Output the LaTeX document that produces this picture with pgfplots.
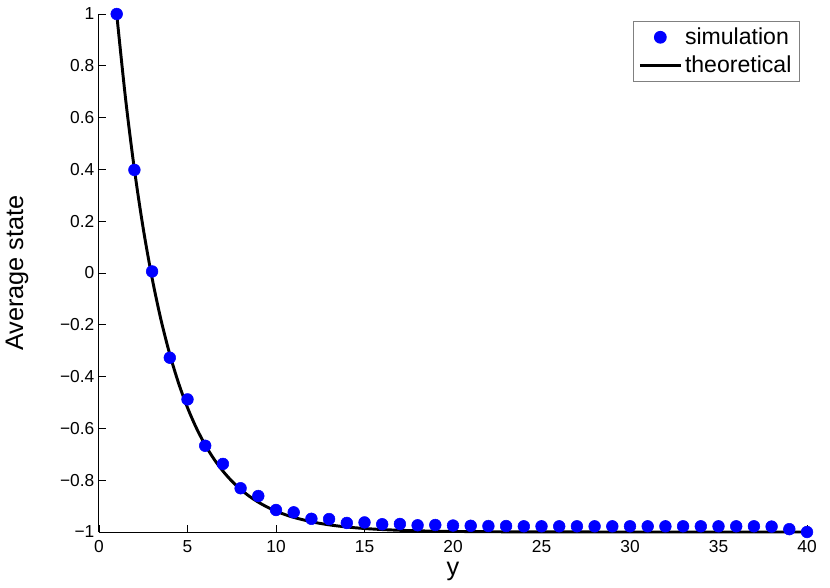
\documentclass[border=0pt]{standalone}
\usepackage{fontspec}
\setmainfont{Liberation Sans}
\usepackage{pgfplots}
\pgfplotsset{compat=1.18}
\begin{document}
\begin{tikzpicture}
\path[use as bounding box] (-74.25pt,-41.25pt) rectangle (548.25pt,399pt);
\begin{axis}[
  at={(0pt,0pt)}, anchor=south west,
  width=531pt, height=388.5pt, scale only axis,
  xmin=0, xmax=40, ymin=-1, ymax=1,
  axis x line*=bottom, axis y line*=left,
  axis line style={line width=0.75pt, black},
  tick align=inside,
  major tick length=5pt,
  tick style={line width=0.6pt, black},
  xtick={0,5,10,15,20,25,30,35,40},
  xticklabels={0,5,10,15,20,25,30,35,40},
  ytick={-1,-0.8,-0.6,-0.4,-0.2,0,0.2,0.4,0.6,0.8,1},
  yticklabels={−1,−0.8,−0.6,−0.4,−0.2,0,0.2,0.4,0.6,0.8,1},
  ticklabel style={font=\fontsize{13}{15}\selectfont},
  xticklabel style={yshift=-3pt},
  xlabel={y}, ylabel={Average state},
  xlabel style={at={(axis description cs:0.5,-0.0753)}, anchor=center},
  ylabel style={at={(axis description cs:-0.1158,0.5)}, anchor=center, rotate=0},
  label style={font=\fontsize{19}{22}\selectfont},
  clip=false,
  legend image code/.code={\draw[mark repeat=2,mark phase=2,#1] plot coordinates {(0pt,0pt) (15.4pt,0pt) (30.8pt,0pt)};},
  legend style={at={(0.990,0.987)}, anchor=north east, draw=gray, line width=0.75pt,
    font=\fontsize{17.3}{20}\selectfont, row sep=3pt, inner xsep=4pt, inner ysep=3pt},
  legend cell align=left,
]
\addplot[only marks, mark=*, mark size=4.4pt, color=blue, mark options={draw=blue, fill=blue}] coordinates {
(1,1.0) (2,0.398) (3,0.006) (4,-0.327) (5,-0.488) (6,-0.667) (7,-0.737) (8,-0.831)
(9,-0.861) (10,-0.915) (11,-0.924) (12,-0.949) (13,-0.950) (14,-0.965) (15,-0.963)
(16,-0.970) (17,-0.969) (18,-0.974) (19,-0.973) (20,-0.975) (21,-0.976) (22,-0.977)
(23,-0.977) (24,-0.978) (25,-0.978) (26,-0.978) (27,-0.978) (28,-0.978) (29,-0.978)
(30,-0.978) (31,-0.978) (32,-0.978) (33,-0.978) (34,-0.978) (35,-0.978) (36,-0.978)
(37,-0.978) (38,-0.979) (39,-0.989) (40,-1.0)
};
\addlegendentry{simulation}
\addplot[black, line width=2.2pt, smooth] coordinates {
(1,1.0) (1.5,0.67332) (2,0.4) (2.5,0.17132) (3,-0.02) (3.5,-0.18008) (4,-0.314)
(4.5,-0.42606) (5,-0.5198) (5.5,-0.59824) (6,-0.66386) (6.5,-0.71876) (7,-0.764702)
(7.5,-0.80313) (8,-0.835291) (8.5,-0.862194) (9,-0.884704) (9.5,-0.903536)
(10,-0.919293) (10.5,-0.932476) (11,-0.943505) (12,-0.960453) (13,-0.972317)
(14,-0.980622) (15,-0.986436) (16,-0.990505) (17,-0.993353) (18,-0.995347)
(19,-0.996743) (20,-0.99772) (22,-0.99888) (25,-0.99961) (30,-0.99993) (35,-0.99999) (40,-1.0)
};
\addlegendentry{theoretical}
\end{axis}
\end{tikzpicture}
\end{document}
